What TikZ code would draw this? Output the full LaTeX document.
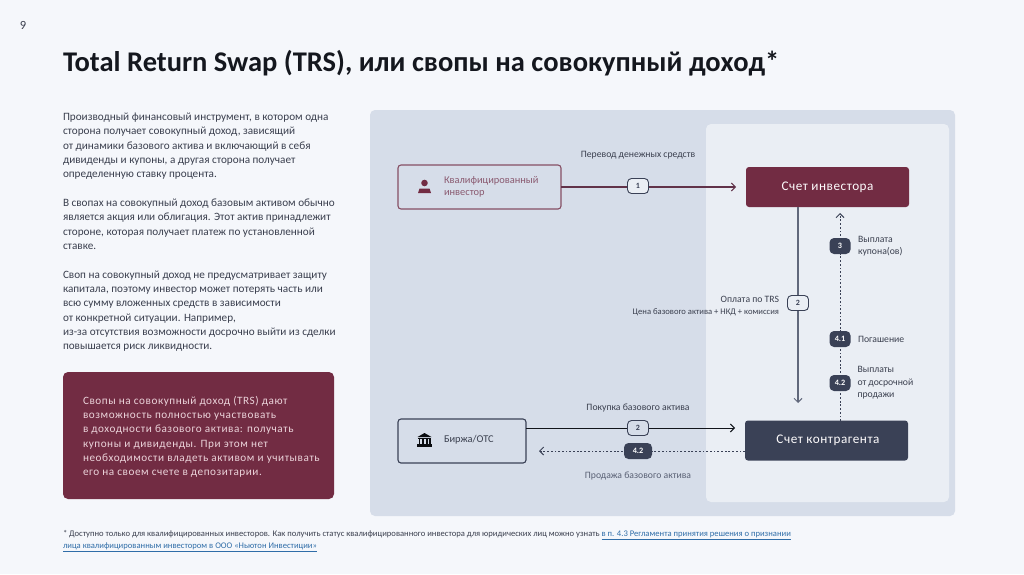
\documentclass[tikz,border=0pt]{standalone}
\usepackage{fontspec}
\setmainfont{Carlito}
\newfontfamily\spaced[LetterSpace=5]{Carlito}
\newfontfamily\spacedw[LetterSpace=4]{Carlito}
\usetikzlibrary{arrows.meta}
\definecolor{pagebg}{HTML}{F5F7FB}
\definecolor{panel}{HTML}{D6DDE9}
\definecolor{inner}{HTML}{EAEEF4}
\definecolor{wine}{HTML}{722C43}
\definecolor{winetx}{HTML}{8A5A70}
\definecolor{slate}{HTML}{3A4156}
\definecolor{txt}{HTML}{3A3F4E}
\definecolor{lnk}{HTML}{2F6DA8}
\definecolor{pinktx}{HTML}{EBD3DA}
\tikzset{
  x=1pt,y=-1pt,
  every node/.style={inner sep=0pt,outer sep=0pt,text=txt},
  bodytext/.style={anchor=north west,align=left,font=\fontsize{11.2}{14.32}\selectfont},
  lab/.style={font=\fontsize{9.7}{12}\selectfont},
  labs/.style={font=\fontsize{8.6}{12}\selectfont},
  sidelab/.style={anchor=west,align=left,font=\fontsize{9.7}{12}\selectfont},
  mainbox/.style={draw=none,rounded corners=3pt,minimum height=40pt,minimum width=163pt,text=white!92!pinktx,font=\spacedw\fontsize{13.2}{16}\selectfont},
  srcbox/.style={fill=none,rounded corners=3pt,line width=1.1pt},
  openbadge/.style={fill=inner,draw=#1,line width=.9pt,rounded corners=4pt,minimum width=21pt,minimum height=15pt,font=\bfseries\fontsize{8}{9}\selectfont,text=#1},
  darkbadge/.style={fill=slate,rounded corners=4.5pt,minimum height=16pt,minimum width=#1,font=\bfseries\fontsize{8.2}{9}\selectfont,text=white},
  dot/.style={line width=.9pt,dash pattern=on 1.8pt off 1.9pt,color=slate},
  tip/.style={-{Straight Barb[length=4pt,width=8pt,line width=1pt]}},
}
\begin{document}
\begin{tikzpicture}
\useasboundingbox (0,0) rectangle (1024,574);
\fill[pagebg] (0,0) rectangle (1024,574);
\node[anchor=center,font=\fontsize{12.5}{14}\selectfont] (pagenum) at (23,25) {9};
\node[anchor=west,font=\bfseries\fontsize{28.5}{32}\selectfont,text=black!65!slate] (title) at (63,63) {Total Return Swap (TRS), или свопы на совокупный доход*};
\node[bodytext] (body) at (63,113) {Производный финансовый инструмент, в котором одна\\сторона получает совокупный доход, зависящий\\от динамики базового актива и включающий в себя\\дивиденды и купоны, а другая сторона получает\\определенную ставку процента.\\[14.32pt]В свопах на совокупный доход базовым активом обычно\\является акция или облигация. Этот актив принадлежит\\стороне, которая получает платеж по установленной\\ставке.\\[14.32pt]Своп на совокупный доход не предусматривает защиту\\капитала, поэтому инвестор может потерять часть или\\всю сумму вложенных средств в зависимости\\от конкретной ситуации. Например,\\из-за отсутствия возможности досрочно выйти из сделки\\повышается риск ликвидности.};
\fill[wine] (63,372) [rounded corners=5pt] rectangle (334,499);
\node[bodytext,text=pinktx,font=\spaced\fontsize{11.2}{14.32}\selectfont] (note) at (83,396) {Свопы на совокупный доход (TRS) дают\\возможность полностью участвовать\\в доходности базового актива: получать\\купоны и дивиденды. При этом нет\\необходимости владеть активом и учитывать\\его на своем счете в депозитарии.};
\node[anchor=north west,align=left,font=\fontsize{8.6}{12}\selectfont] (foot) at (63,530) {* Доступно только для квалифицированных инвесторов. Как получить статус квалифицированного инвестора для юридических лиц можно узнать {\color{lnk}\underline{в п. 4.3 Регламента принятия решения  о признании}}\\{\color{lnk}\underline{лица квалифицированным инвестором в ООО «Ньютон Инвестиции»}}};
\fill[panel] (370,110) [rounded corners=5pt] rectangle (955,516);
\fill[inner] (706,124) [rounded corners=5pt] rectangle (949,502);
% boxes
\node[mainbox,fill=wine] (acc) at (827.5,187) {Счет инвестора};
\node[mainbox,fill=slate] (cp) at (826.5,440.5) {\hspace{3pt}Счет контрагента};
\node[srcbox,draw=wine!80!panel,minimum width=163pt,minimum height=44pt] (inv) at (479.5,187) {};
\node[srcbox,draw=slate,minimum width=128pt,minimum height=44pt] (ex) at (462,441) {};
\node[anchor=west,align=left,text=winetx,font=\fontsize{10.4}{12.5}\selectfont] (invt) at (444,187) {Квалифицированный\\инвестор};
\node[anchor=west,font=\fontsize{10.4}{12.5}\selectfont] (ext) at (444,440) {Биржа/ОТС};
% icons
\fill[wine] (424.5,183) circle (3.3);
\fill[wine] (418,193) -- (419.5,188.5) -- (429.5,188.5) -- (431,193) -- cycle;
\fill[black!80!slate] (417.5,437) -- (424.5,433) -- (431.5,437) -- cycle;
\fill[black!80!slate] (418,437.6) rectangle (431,439);
\foreach \c in {419.5,423.2,426.8,430}{\fill[black!80!slate] (\c-.9,439) rectangle (\c+.9,444);}
\fill[black!80!slate] (416.8,444) rectangle (432.2,447);
% connectors
\coordinate (cpTop) at (840,421);
\coordinate (arrUpEnd) at (840,213);
\coordinate (v2end) at (798,403);
\coordinate (accDown) at (798,207);
\coordinate (cpLeftHigh) at (745,428);
\coordinate (cpLeftLow) at (745,451);
\coordinate (exLow) at (526,451);
\coordinate (exHigh) at (526,428);
\draw[tip,color=wine!70!slate,line width=1.2pt,shorten >=10pt] (inv.east) -- (acc.west);
\draw[tip,color=black!70!slate,line width=1pt,shorten >=10pt] (exHigh) -- (cpLeftHigh);
\draw[dot,tip,shorten >=13pt] (cpLeftLow) -- (exLow);
\draw[tip,color=slate!75!panel,line width=1.2pt] (accDown) -- (v2end);
\draw[dot,tip] (cpTop) -- (arrUpEnd);
% badges
\node[openbadge=slate] (b1) at (638,186) {1};
\node[openbadge=slate] (b2a) at (798,303) {2};
\node[openbadge=slate,fill=panel] (b2b) at (638,428) {2};
\node[darkbadge=28pt] (b42h) at (638,451) {4.2};
\node[darkbadge=21pt] (b3) at (840,246) {3};
\node[darkbadge=21pt] (b41) at (840,339) {4.1};
\node[darkbadge=21pt] (b42v) at (840,383) {4.2};
% labels
\node[lab] (l1) at (638,155) {Перевод денежных средств};
\node[lab,anchor=east] (l2) at (779,299) {Оплата по TRS};
\node[labs,anchor=east] (l2s) at (779,312) {Цена базового актива + НКД + комиссия};
\node[lab] (l3) at (638,408) {Покупка базового актива};
\node[lab,text=slate!80!panel] (l4) at (638,476) {Продажа базового актива};
\node[sidelab] (s3) at (858,246) {Выплата\\купона(ов)};
\node[sidelab] (s41) at (858,339) {Погашение};
\node[sidelab,font=\fontsize{9.7}{12.5}\selectfont] (s42) at (857.5,383) {Выплаты\\от досрочной\\продажи};
\end{tikzpicture}
\end{document}
